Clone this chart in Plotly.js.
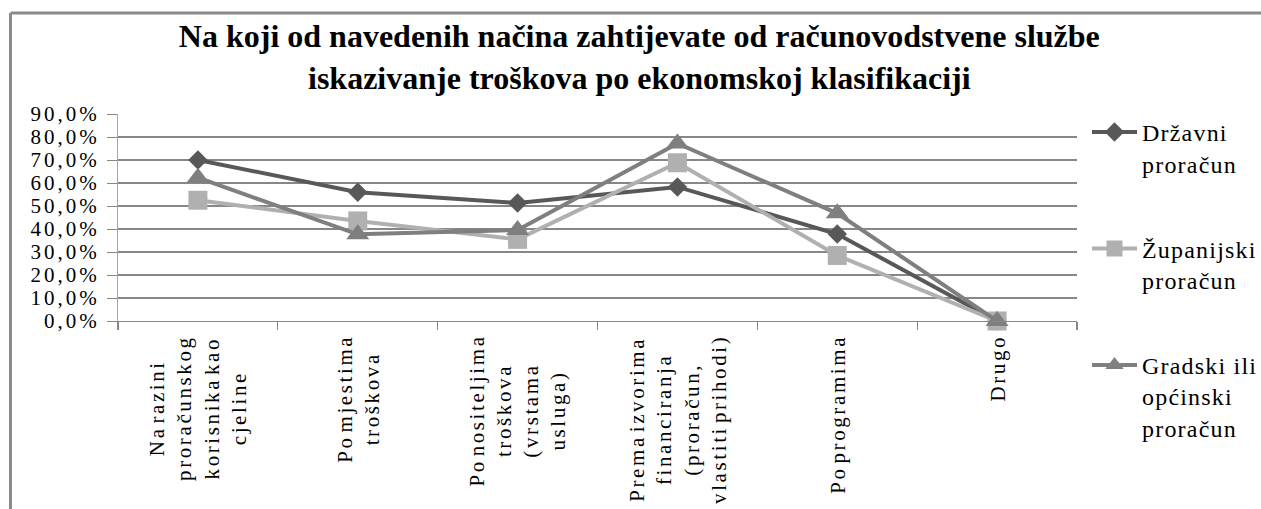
<!DOCTYPE html>
<html>
<head>
<meta charset="utf-8">
<script src="https://cdn.plot.ly/plotly-3.0.1.min.js"></script>
<style>
  html, body { margin: 0; padding: 0; background: #fff; }
  #chart { width: 1261px; height: 509px; }
  .annotation-text { letter-spacing: 2.6px; word-spacing: -5px; }
  .ytick text { letter-spacing: 3px; }
  .legendtext { letter-spacing: 1.2px; }
</style>
</head>
<body>
<div id="chart"></div>
<script>
// ---- data ----
const categories = [
  "Na razini<br>proračunskog<br>korisnika kao<br>cjeline",
  "Po mjestima<br>troškova",
  "Po nositeljima<br>troškova<br>(vrstama<br>usluga)",
  "Prema izvorima<br>financiranja<br>(proračun,<br>vlastiti prihodi)",
  "Po programima",
  "Drugo"
];
const seriesNames = ["Državni<br>proračun", "Županijski<br>proračun", "Gradski ili<br>općinski<br>proračun"];
const drzavni    = [70.0, 56.0, 51.3, 58.3, 37.8, 0.0];
const zupanijski = [52.5, 43.5, 35.5, 68.8, 28.5, 0.0];
const gradski    = [62.3, 37.7, 39.6, 77.2, 46.8, 0.0];
const yTickVals  = [0, 10, 20, 30, 40, 50, 60, 70, 80, 90];
const yTickText  = ["0,0%", "10,0%", "20,0%", "30,0%", "40,0%", "50,0%", "60,0%", "70,0%", "80,0%", "90,0%"];

const SERIF = "Liberation Serif";
const colors = ["#585858", "#b0b0b0", "#7f7f7f"];
const symbols = ["diamond", "square", "triangle-up"];
const sizes = [15, 19, 20];
const values = [drzavni, zupanijski, gradski];

const traces = values.map((v, i) => ({
  type: "scatter",
  mode: "lines+markers",
  x: categories,
  y: v,
  name: seriesNames[i],
  legendgroup: "g" + i,
  line: { color: colors[i], width: 4 },
  marker: { symbol: symbols[i], size: sizes[i], color: colors[i] },
  cliponaxis: false,
  hoverinfo: "skip"
}));

// plot-area geometry in pixels
const W = 1261, H = 509;
const mL = 118, mR = 184, mT = 114, mB = 188;
const pw = W - mL - mR, ph = H - mT - mB;
const px = p => (p - mL) / pw;
const py = p => (H - mB - p) / ph;

// category labels: centred, rotated, hung below the axis
const catAnnotations = categories.map(c => ({
  xref: "x", x: c,
  yref: "paper", y: py(333),
  xanchor: "center", yanchor: "top",
  textangle: -90,
  align: "center",
  showarrow: false,
  text: c,
  font: { family: SERIF, size: 21, color: "#000" }
}));

const layout = {
  width: W, height: H,
  margin: { l: mL, r: mR, t: mT, b: mB, autoexpand: false },
  paper_bgcolor: "#ffffff",
  plot_bgcolor: "#ffffff",
  font: { family: SERIF, color: "#000" },
  title: {
    text: "<b>Na koji od navedenih načina zahtijevate od računovodstvene službe<br>iskazivanje troškova po ekonomskoj klasifikaciji</b>",
    font: { family: SERIF, size: 32, color: "#000" },
    xref: "container", x: 0.507, xanchor: "center",
    yref: "container", y: 1 - 47 / H, yanchor: "top"
  },
  xaxis: {
    type: "category",
    range: [-0.5, categories.length - 0.5],
    autorange: false,
    tickson: "boundaries",
    ticks: "outside",
    ticklen: 8,
    tickcolor: "#878787",
    tickwidth: 1.3,
    showline: true,
    linecolor: "#878787",
    linewidth: 1.3,
    showgrid: false,
    showticklabels: false
  },
  yaxis: {
    range: [0, 90],
    autorange: false,
    tickvals: yTickVals,
    ticktext: yTickText,
    ticks: "outside",
    ticklen: 10,
    tickcolor: "#878787",
    showline: true,
    linecolor: "#a8a8a8",
    linewidth: 1,
    showgrid: true,
    gridcolor: "#878787",
    gridwidth: 1.3,
    zeroline: false,
    ticklabelstandoff: 3,
    tickfont: { size: 21, family: SERIF, color: "#000" }
  },
  showlegend: true,
  legend: {
    x: px(1087), xanchor: "left",
    y: py(110), yanchor: "top",
    valign: "top",
    itemwidth: 45,
    tracegroupgap: 51,
    maxheight: 800,
    font: { size: 24, family: SERIF, color: "#000" },
    bgcolor: "rgba(0,0,0,0)"
  },
  annotations: catAnnotations,
  shapes: [
    { type: "line", xref: "paper", yref: "paper", x0: px(10.5), x1: px(1270), y0: py(13), y1: py(13),
      line: { color: "#8a8a8a", width: 3 } },
    { type: "line", xref: "paper", yref: "paper", x0: px(10.5), x1: px(10.5), y0: py(13), y1: py(520),
      line: { color: "#8a8a8a", width: 3 } }
  ]
};

Plotly.newPlot("chart", traces, layout, { displayModeBar: false, staticPlot: true });
</script>
</body>
</html>
